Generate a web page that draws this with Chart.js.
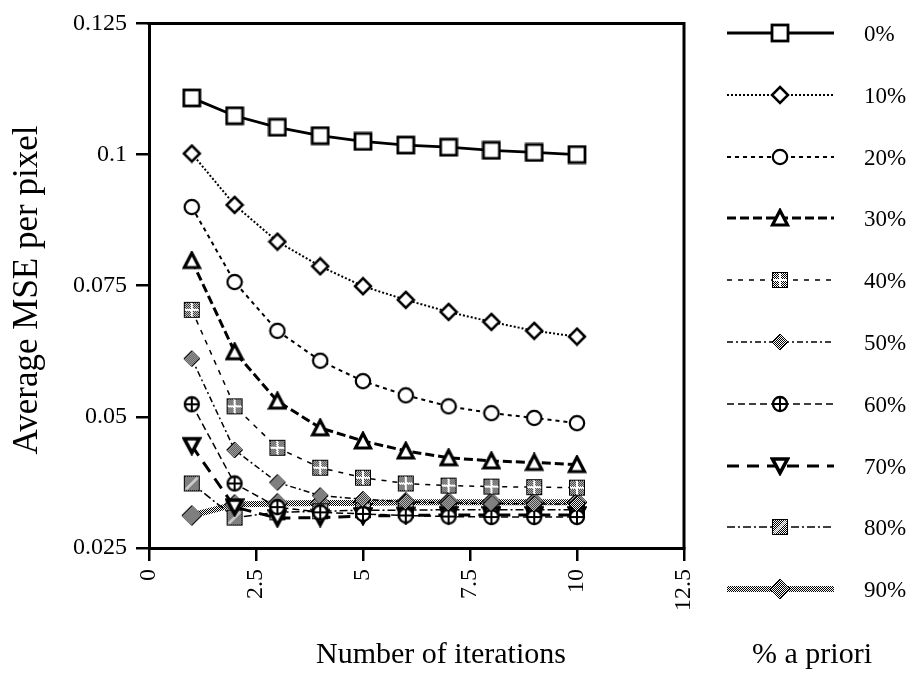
<!DOCTYPE html>
<html>
<head>
<meta charset="utf-8">
<script src="https://cdn.jsdelivr.net/npm/chart.js@4.4.1/dist/chart.umd.min.js"></script>
<style>
  html, body { margin: 0; padding: 0; background: #fff; }
  #wrap { width: 913px; height: 675px; }
</style>
</head>
<body>
<div id="wrap"><canvas id="chart" width="913" height="675"></canvas></div>
<script>
// ──────────────────────────────────────────────
//  Data
// ──────────────────────────────────────────────
const iterations = [1, 2, 3, 4, 5, 6, 7, 8, 9, 10];

const mse0  = [0.1108, 0.1074, 0.1052, 0.1036, 0.1025, 0.1018, 0.1014, 0.1008, 0.1004, 0.1000];
const mse10 = [0.1002, 0.0904, 0.0834, 0.0787, 0.0749, 0.0723, 0.0700, 0.0681, 0.0664, 0.0653];
const mse20 = [0.0900, 0.0757, 0.0664, 0.0607, 0.0568, 0.0541, 0.0520, 0.0507, 0.0498, 0.0488];
const mse30 = [0.0798, 0.0624, 0.0530, 0.0479, 0.0454, 0.0435, 0.0422, 0.0416, 0.0413, 0.0409];
const mse40 = [0.0704, 0.0520, 0.0441, 0.0403, 0.0384, 0.0373, 0.0369, 0.0367, 0.0366, 0.0365];
const mse50 = [0.0611, 0.0437, 0.0375, 0.0350, 0.0343, 0.0338, 0.0336, 0.0335, 0.0334, 0.0334];
const mse60 = [0.0524, 0.0373, 0.0328, 0.0318, 0.0315, 0.0312, 0.0310, 0.0309, 0.0309, 0.0309];
const mse70 = [0.0445, 0.0328, 0.0307, 0.0308, 0.0311, 0.0312, 0.0313, 0.0313, 0.0313, 0.0313];
const mse80 = [0.0373, 0.0308, 0.0318, 0.0320, 0.0322, 0.0322, 0.0323, 0.0323, 0.0323, 0.0323];
const mse90 = [0.0312, 0.0333, 0.0335, 0.0336, 0.0336, 0.0337, 0.0337, 0.0337, 0.0337, 0.0337];

const seriesLabels = ['0%', '10%', '20%', '30%', '40%', '50%', '60%', '70%', '80%', '90%'];
const legendTitle = '% a priori';

const xTickValues = [0, 2.5, 5, 7.5, 10, 12.5];
const xTickLabels = ['0', '2.5', '5', '7.5', '10', '12.5'];
const yTickValues = [0.025, 0.05, 0.075, 0.1, 0.125];
const yTickLabels = ['0.025', '0.05', '0.075', '0.1', '0.125'];

const xTitle = 'Number of iterations';
const yTitle = 'Average MSE per pixel';

const FONT = "'Liberation Serif', 'Times New Roman', serif";

// ──────────────────────────────────────────────
//  Marker drawing (small canvases used as pointStyle)
// ──────────────────────────────────────────────
function checkerTile() {
    const t = document.createElement('canvas');
    t.width = 2; t.height = 2;
    const g = t.getContext('2d');
    g.fillStyle = '#fff'; g.fillRect(0, 0, 2, 2);
    g.fillStyle = '#000';
    g.fillRect(0, 0, 1, 1); g.fillRect(1, 1, 1, 1);
    return t;
}

function marker(size, draw) {
    const c = document.createElement('canvas');
    c.width = size; c.height = size;
    const g = c.getContext('2d');
    g.lineJoin = 'miter';
    draw(g, size, g.createPattern(checkerTile(), 'repeat'));
    return c;
}

function diamondPath(g, cx, cy, r) {
    g.beginPath();
    g.moveTo(cx, cy - r); g.lineTo(cx + r, cy); g.lineTo(cx, cy + r); g.lineTo(cx - r, cy);
    g.closePath();
}

const markers = [
    // 0%: open square
    marker(20, (g) => {
        g.fillStyle = '#fff'; g.fillRect(1, 1, 18, 18);
        g.lineWidth = 2.8; g.strokeStyle = '#000'; g.strokeRect(2, 2, 16, 16);
    }),
    // 10%: open diamond
    marker(20, (g) => {
        diamondPath(g, 10, 10, 8);
        g.fillStyle = '#fff'; g.fill();
        g.lineWidth = 2.5; g.strokeStyle = '#000'; g.stroke();
    }),
    // 20%: open circle
    marker(18, (g) => {
        g.beginPath(); g.arc(9, 9, 7.2, 0, Math.PI * 2);
        g.fillStyle = '#fff'; g.fill();
        g.lineWidth = 2.2; g.strokeStyle = '#000'; g.stroke();
    }),
    // 30%: open triangle
    marker(20, (g) => {
        g.beginPath(); g.moveTo(10, 2.5); g.lineTo(17.5, 17); g.lineTo(2.5, 17); g.closePath();
        g.fillStyle = '#fff'; g.fill();
        g.lineWidth = 3.2; g.strokeStyle = '#000'; g.stroke();
    }),
    // 40%: patterned square
    marker(20, (g, s, pat) => {
        g.fillStyle = pat; g.fillRect(2, 2, 16, 16);
        g.fillStyle = '#fff';
        g.fillRect(2, 9, 16, 2); g.fillRect(9, 2, 2, 16);
        g.lineWidth = 1; g.strokeStyle = '#000'; g.strokeRect(2.5, 2.5, 15, 15);
    }),
    // 50%: patterned diamond
    marker(18, (g, s, pat) => {
        diamondPath(g, 9, 9, 8);
        g.fillStyle = pat; g.fill();
        g.lineWidth = 1; g.strokeStyle = '#000'; g.stroke();
    }),
    // 60%: circle with plus
    marker(18, (g) => {
        g.beginPath(); g.arc(9, 9, 7, 0, Math.PI * 2);
        g.fillStyle = '#fff'; g.fill();
        g.lineWidth = 2.3; g.strokeStyle = '#000'; g.stroke();
        g.beginPath(); g.moveTo(9, 2); g.lineTo(9, 16); g.moveTo(2, 9); g.lineTo(16, 9);
        g.lineWidth = 2; g.stroke();
    }),
    // 70%: down triangle
    marker(20, (g) => {
        g.beginPath(); g.moveTo(2.5, 3); g.lineTo(17.5, 3); g.lineTo(10, 17); g.closePath();
        g.fillStyle = '#fff'; g.fill();
        g.lineWidth = 3.6; g.strokeStyle = '#000'; g.stroke();
    }),
    // 80%: patterned square with diagonal
    marker(20, (g, s, pat) => {
        g.fillStyle = pat; g.fillRect(2, 2, 16, 16);
        g.beginPath(); g.moveTo(4, 16); g.lineTo(16, 4);
        g.lineWidth = 1.6; g.strokeStyle = '#fff'; g.stroke();
        g.lineWidth = 1; g.strokeStyle = '#000'; g.strokeRect(2.5, 2.5, 15, 15);
    }),
    // 90%: patterned diamond (bigger)
    marker(22, (g, s, pat) => {
        diamondPath(g, 11, 11, 10);
        g.fillStyle = pat; g.fill();
        g.lineWidth = 1; g.strokeStyle = '#000'; g.stroke();
    }),
];

// ──────────────────────────────────────────────
//  Datasets
// ──────────────────────────────────────────────
const canvas = document.getElementById('chart');
const bandPattern = canvas.getContext('2d').createPattern(checkerTile(), 'repeat');

const seriesValues = [mse0, mse10, mse20, mse30, mse40, mse50, mse60, mse70, mse80, mse90];
const lineStyles = [
    { width: 2.8, dash: [] },
    { width: 2, dash: [2, 2] },
    { width: 2, dash: [4, 4] },
    { width: 3, dash: [9, 4] },
    { width: 1.5, dash: [5, 6] },
    { width: 1.5, dash: [6, 3, 2, 3] },
    { width: 1.5, dash: [7, 4] },
    { width: 3, dash: [12, 8] },
    { width: 1.5, dash: [8, 3, 2, 3] },
    { width: 6, dash: [], color: bandPattern },
];

const datasets = seriesValues.map((vals, i) => ({
    label: seriesLabels[i],
    data: vals.map((v, k) => ({ x: iterations[k], y: v })),
    borderColor: lineStyles[i].color || '#000',
    borderWidth: lineStyles[i].width,
    borderDash: lineStyles[i].dash,
    pointStyle: markers[i],
    pointRadius: 8,
    tension: 0,
    fill: false,
}));

// ──────────────────────────────────────────────
//  Plugin: frame, axis titles, custom legend
// ──────────────────────────────────────────────
const decorPlugin = {
    id: 'decor',
    afterDraw(chart) {
        const { ctx, chartArea } = chart;
        ctx.save();

        // top + right edges of the frame
        ctx.strokeStyle = '#000';
        ctx.lineWidth = 3;
        ctx.setLineDash([]);
        ctx.beginPath();
        ctx.moveTo(chartArea.left - 1.5, chartArea.top);
        ctx.lineTo(chartArea.right, chartArea.top);
        ctx.lineTo(chartArea.right, chartArea.bottom + 1.5);
        ctx.stroke();

        // axis titles
        ctx.fillStyle = '#000';
        ctx.font = `30px ${FONT}`;
        ctx.textAlign = 'center';
        ctx.textBaseline = 'alphabetic';
        ctx.fillText(xTitle, 441, 663);
        ctx.fillText(legendTitle, 812, 663);

        ctx.save();
        ctx.font = `35px ${FONT}`;
        ctx.translate(37, 290);
        ctx.rotate(-Math.PI / 2);
        ctx.fillText(yTitle, 0, 0);
        ctx.restore();

        // legend: line sample + marker + label
        ctx.font = `23px ${FONT}`;
        ctx.textAlign = 'left';
        ctx.textBaseline = 'middle';
        chart.data.datasets.forEach((ds, i) => {
            const y = Math.round(33 + i * 61.8);
            ctx.beginPath();
            ctx.setLineDash(ds.borderDash || []);
            ctx.lineWidth = ds.borderWidth;
            ctx.strokeStyle = ds.borderColor;
            ctx.moveTo(727, y);
            ctx.lineTo(834, y);
            ctx.stroke();
            ctx.setLineDash([]);
            const m = ds.pointStyle;
            ctx.drawImage(m, 780 - m.width / 2, y - m.height / 2);
            ctx.fillStyle = '#000';
            ctx.fillText(ds.label, 864, y + 2);
        });

        ctx.restore();
    }
};

// ──────────────────────────────────────────────
//  Chart
// ──────────────────────────────────────────────
new Chart(canvas.getContext('2d'), {
    type: 'line',
    data: { datasets: datasets },
    options: {
        responsive: false,
        animation: false,
        devicePixelRatio: 1,
        layout: { padding: { top: 19, right: 229, bottom: 0, left: 0 } },
        plugins: {
            legend: { display: false },
            tooltip: { enabled: false },
        },
        scales: {
            x: {
                type: 'linear',
                min: 0,
                max: 12.5,
                afterBuildTicks: (scale) => {
                    scale.ticks = xTickValues.map(v => ({ value: v }));
                },
                afterFit: (scale) => { scale.height = 127; },
                border: { color: '#000', width: 3 },
                grid: {
                    drawOnChartArea: false,
                    drawTicks: true,
                    tickLength: 13,
                    color: '#000',
                    lineWidth: 2.5,
                },
                ticks: {
                    minRotation: 90,
                    maxRotation: 90,
                    padding: 8,
                    color: '#000',
                    font: { family: FONT, size: 24 },
                    callback: (v, i) => xTickLabels[i],
                },
            },
            y: {
                type: 'linear',
                min: 0.025,
                max: 0.125,
                afterBuildTicks: (scale) => {
                    scale.ticks = yTickValues.map(v => ({ value: v }));
                },
                afterFit: (scale) => { scale.width = 149; },
                border: { color: '#000', width: 3 },
                grid: {
                    drawOnChartArea: false,
                    drawTicks: true,
                    tickLength: 13,
                    color: '#000',
                    lineWidth: 2.5,
                },
                ticks: {
                    padding: 9,
                    color: '#000',
                    font: { family: FONT, size: 24 },
                    callback: (v, i) => yTickLabels[i],
                },
            },
        },
    },
    plugins: [decorPlugin],
});
</script>
</body>
</html>
